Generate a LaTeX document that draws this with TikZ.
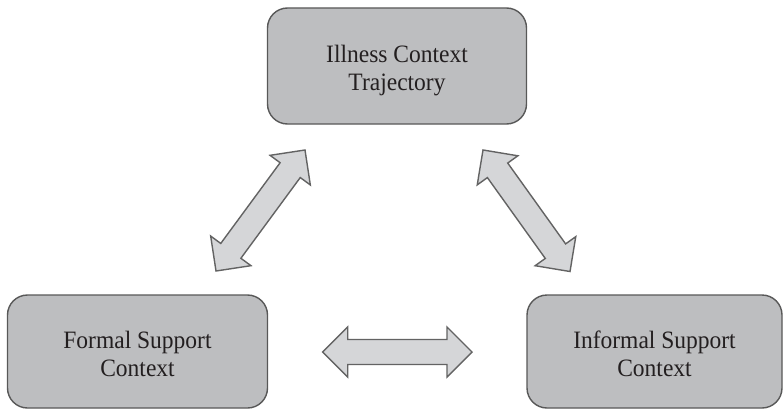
\documentclass[tikz,border=0pt]{standalone}
\usepackage{fontspec}
\setmainfont{Liberation Serif}[FakeStretch=0.94]
\usetikzlibrary{calc}
\definecolor{boxfill}{HTML}{BDBEC0}
\definecolor{boxline}{HTML}{585858}
\definecolor{arrfill}{HTML}{D5D6D8}
\definecolor{arrline}{HTML}{636363}
\definecolor{txt}{HTML}{231F20}
\tikzset{
  ctxbox/.style={draw=boxline, fill=boxfill, line width=1.4pt, rounded corners=20pt,
    align=center, text=txt, font=\fontsize{25}{28}\selectfont, inner sep=0pt,
    text height=49pt, text depth=0pt},
  barrow/.style={draw=arrline, fill=arrfill, line width=1.4pt, line join=miter}
}
\newcommand{\blockarr}[2]{%
\filldraw[barrow] (#1)
 -- ($(#1)!25pt!(#2)!25pt!90:(#2)$)
 -- ($(#1)!25pt!(#2)!12.5pt!90:(#2)$)
 -- ($(#2)!25pt!(#1)!12.5pt!-90:(#1)$)
 -- ($(#2)!25pt!(#1)!25pt!-90:(#1)$)
 -- (#2)
 -- ($(#2)!25pt!(#1)!25pt!90:(#1)$)
 -- ($(#2)!25pt!(#1)!12.5pt!90:(#1)$)
 -- ($(#1)!25pt!(#2)!12.5pt!-90:(#2)$)
 -- ($(#1)!25pt!(#2)!25pt!-90:(#2)$)
 -- cycle;}
\begin{document}
\begin{tikzpicture}[x=1pt,y=-1pt]
\useasboundingbox (0,0) rectangle (783,409);
\fill[white] (0,0) rectangle (783,409);
\node[ctxbox, minimum width=259pt, minimum height=116pt] (ill) at (397,66) {Illness Context\\Trajectory};
\node[ctxbox, minimum width=260pt, minimum height=113pt] (formal) at (137.5,351.5) {Formal Support\\Context};
\node[ctxbox, minimum width=255pt, minimum height=113pt] (informal) at (654.5,351.5) {Informal Support\\Context};
\coordinate (la) at (216,271);
\coordinate (lb) at (305,150);
\coordinate (ra) at (483,150);
\coordinate (rb) at (570,271.5);
\coordinate (ha) at (322.7,352);
\coordinate (hb) at (472,352);
\blockarr{la}{lb}
\blockarr{ra}{rb}
\blockarr{ha}{hb}
\end{tikzpicture}
\end{document}
